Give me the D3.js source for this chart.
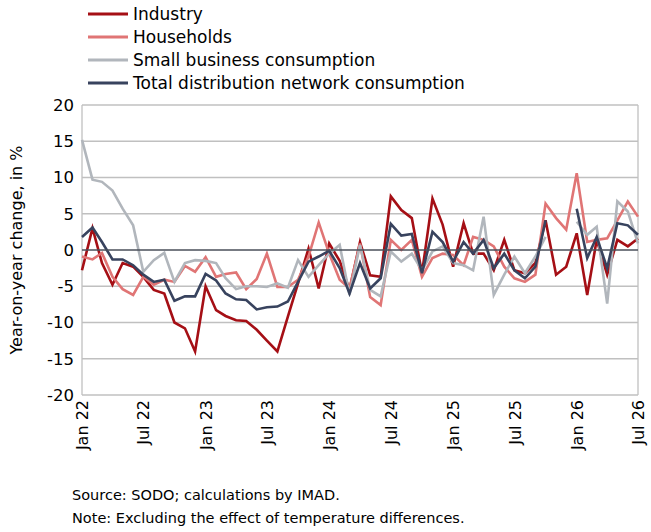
<!DOCTYPE html>
<html><head><meta charset="utf-8">
<script src="https://cdn.jsdelivr.net/npm/d3@7"></script>
<style>body{margin:0;background:#fff;font-family:"DejaVu Sans",Arial,sans-serif}</style>
</head><body><svg id="c" width="651" height="532"></svg>
<script>
const start = new Date(2022,0,1);
const tickLabels = ["Jan 22","Jul 22","Jan 23","Jul 23","Jan 24","Jul 24","Jan 25","Jul 25","Jan 26","Jul 26"];
const yTicks = [-20,-15,-10,-5,0,5,10,15,20];
const industry = [-2.8,3.0,-1.8,-4.8,-1.8,-2.3,-3.7,-5.5,-6.0,-10.0,-10.8,-14.0,-5.0,-8.3,-9.1,-9.7,-9.8,-11.0,-12.5,-14.0,-9.2,-4.6,0.2,-5.3,0.9,-1.5,-5.5,1.1,-3.5,-3.7,7.4,5.5,4.4,-3.2,7.1,3.5,-2.3,3.7,-0.5,-0.5,-2.8,1.4,-2.8,-3.2,-1.8,4.1,-3.4,-2.3,2.3,-6.2,1.4,-3.4,1.4,0.5,1.6];
const households = [-0.9,-1.3,-0.4,-3.7,-5.4,-6.2,-3.7,-4.8,-4.1,-4.4,-2.2,-3.0,-1.0,-3.7,-3.3,-3.1,-5.4,-4.0,-0.5,-5.1,-5.1,-4.1,-0.9,3.8,-0.5,-4.1,-5.3,0.9,-6.5,-7.6,1.4,0,1.4,-3.7,-1.1,-0.5,-0.7,-2.1,1.8,1.4,0.5,-2.3,-3.9,-4.4,-3.4,6.4,4.4,2.8,10.6,1.1,1.4,1.6,4.1,6.7,4.6];
const small = [15.2,9.7,9.4,8.2,5.7,3.4,-3.0,-1.4,-0.4,-4.4,-1.8,-1.4,-1.5,-1.8,-3.9,-5.4,-5.0,-5.0,-5.1,-4.6,-5.2,-1.4,-3.7,-2.1,-0.5,0.7,-6.2,0.7,-5.5,-6.4,-0.2,-1.6,-0.5,-2.8,-0.2,0.5,-1.8,-2.1,-2.8,4.6,-6.2,-3.4,-0.9,-3.2,-0.9,1.8,null,null,3.9,2.1,3.2,-7.4,6.7,5.3,0.9];
const total = [1.8,3.1,1.1,-1.3,-1.3,-2.1,-3.4,-4.4,-4.1,-7.0,-6.4,-6.4,-3.3,-4.2,-6.0,-6.8,-6.9,-8.2,-7.9,-7.8,-7.1,-4.4,-1.6,-0.9,-0.1,-2.5,-6.0,-1.8,-5.3,-3.9,3.6,2.0,2.2,-3.2,2.5,1.1,-1.6,1.1,-0.5,1.4,-2.5,-0.5,-2.8,-3.9,-2.3,4.1,null,null,5.7,-1.1,1.8,-2.5,3.7,3.4,2.1];
const seriesNames = ["Industry","Households","Small business consumption","Total distribution network consumption"];
const colors = ["#a50f15","#e07575","#b1b6bc","#38435e"];
const data = [industry,households,small,total];
const FONT = "DejaVu Sans, Arial";

const svg = d3.select("#c").attr("font-family",FONT);
const x = d3.scaleTime().domain([start,new Date(2026,6,1)]).range([82,638]);
const y = d3.scaleLinear().domain([-20,20]).range([395,105]);
const month = i => d3.timeMonth.offset(start,i);

svg.append("g").selectAll("line").data(yTicks.filter(v=>v!==0)).join("line")
 .attr("x1",82).attr("x2",638).attr("y1",d=>y(d)).attr("y2",d=>y(d))
 .attr("stroke","#c0c0c0").attr("stroke-width",1.3);
svg.append("line").attr("x1",82).attr("x2",82).attr("y1",105).attr("y2",395).attr("stroke","#c0c0c0").attr("stroke-width",1.3);
svg.append("line").attr("x1",638).attr("x2",638).attr("y1",105).attr("y2",395).attr("stroke","#c0c0c0").attr("stroke-width",1.3);

const ya = svg.append("g").attr("transform","translate(82,0)").call(d3.axisLeft(y).tickValues(yTicks).tickFormat(d=>String(d)).tickSize(0).tickPadding(8));
ya.select(".domain").remove();
ya.selectAll("text").attr("font-size",16.5).attr("fill","#000").attr("font-family",FONT);

const tickDates = tickLabels.map((t,i)=>month(i*6));
const xa = svg.append("g").attr("transform","translate(0,395)").call(d3.axisBottom(x).tickValues(tickDates).tickFormat((d,i)=>tickLabels[i]).tickSize(0));
xa.select(".domain").remove();
xa.selectAll("text").attr("font-size",16).attr("fill","#000").attr("font-family",FONT)
 .attr("transform","rotate(-90)").attr("text-anchor","end").attr("dx","-5").attr("dy","0.35em").attr("y",0).attr("x",0);

const line = d3.line().defined(d=>d!=null).x((d,i)=>x(month(i))).y(d=>y(d));
data.forEach((s,k)=>{
  svg.append("path").datum(s).attr("d",line).attr("fill","none").attr("stroke",colors[k]).attr("stroke-width",2.6).attr("stroke-linejoin","miter");
});
svg.append("line").attr("x1",82).attr("x2",638).attr("y1",y(0)).attr("y2",y(0)).attr("stroke","#4a4f5a").attr("stroke-width",1.6);
svg.append("text").attr("transform",`translate(22,250) rotate(-90)`).attr("text-anchor","middle")
 .attr("font-size",16).text("Year-on-year change, in %");

const lg = svg.append("g");
seriesNames.forEach((n,k)=>{
  const yy = 14 + k*23;
  lg.append("line").attr("x1",88).attr("x2",128).attr("y1",yy).attr("y2",yy).attr("stroke",colors[k]).attr("stroke-width",3);
  lg.append("text").attr("x",133).attr("y",yy).attr("dy","0.35em").attr("font-size",17).text(n);
});
svg.append("text").attr("x",72).attr("y",500).attr("font-size",14.5).text("Source: SODO; calculations by IMAD.");
svg.append("text").attr("x",72).attr("y",523).attr("font-size",14.5).text("Note: Excluding the effect of temperature differences.");
</script></body></html>
